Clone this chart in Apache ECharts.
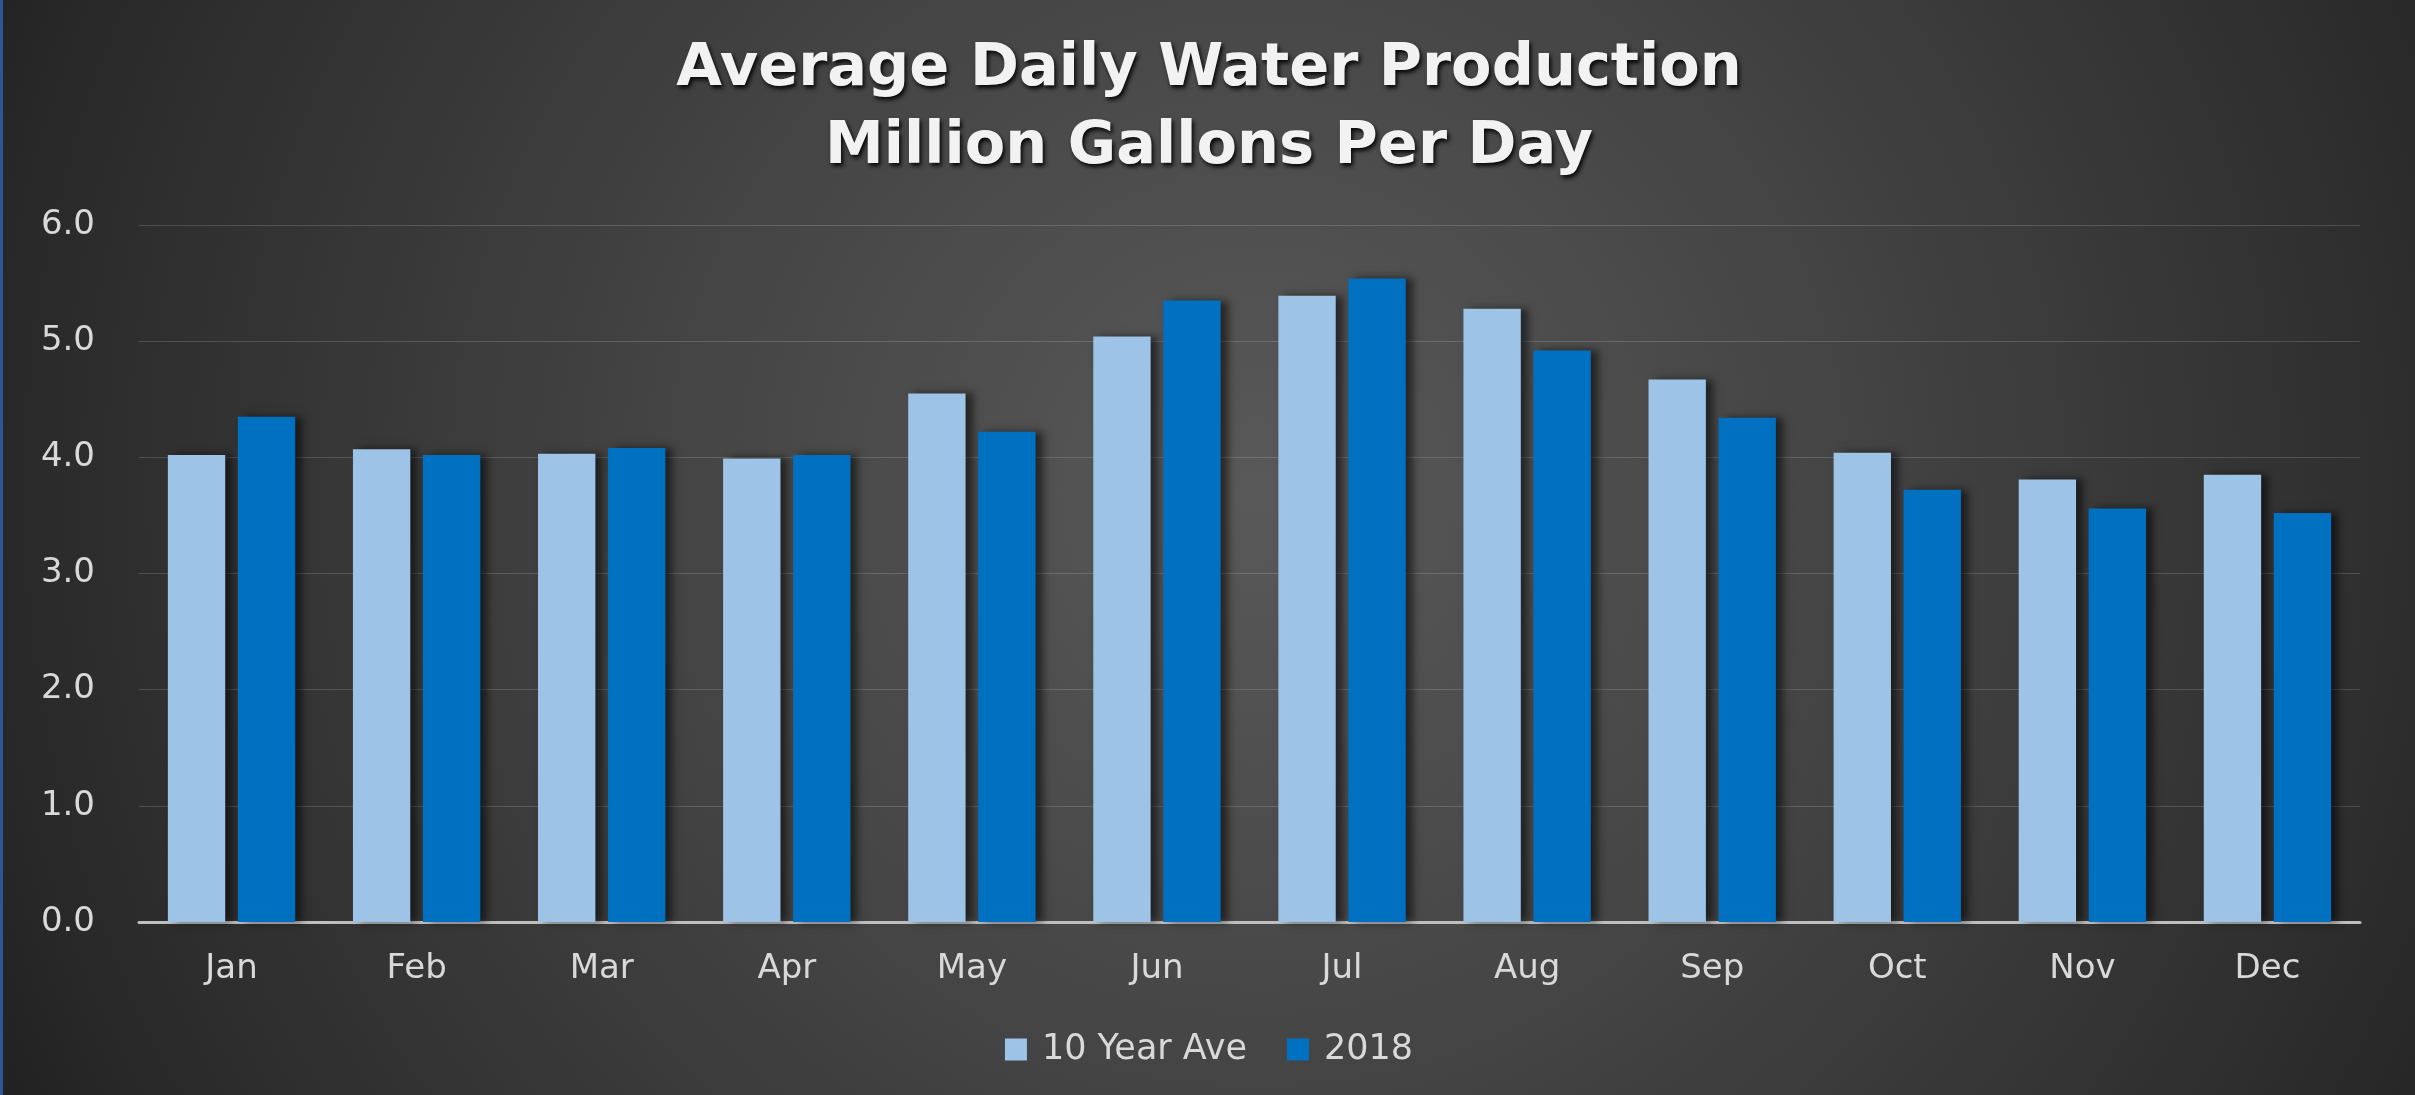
<!DOCTYPE html>
<html style="height: 100%">
<head>
 <meta charset="utf-8">
 <title>Average Daily Water Production</title>
</head>
<body style="height: 100%; margin: 0; background: #2a2a2a">
 <div id="container" style="width: 2415px; height: 1095px; border-left: 3px solid #2e5597; box-sizing: border-box"></div>
 <script type="text/javascript" src="https://cdn.jsdelivr.net/npm/echarts@6/dist/echarts.min.js"></script>
 <script type="text/javascript">
    var months = ['Jan', 'Feb', 'Mar', 'Apr', 'May', 'Jun', 'Jul', 'Aug', 'Sep', 'Oct', 'Nov', 'Dec'];
    var tenYearAve = [4.02, 4.07, 4.03, 3.99, 4.55, 5.04, 5.39, 5.28, 4.67, 4.04, 3.81, 3.85];
    var year2018 = [4.35, 4.02, 4.08, 4.02, 4.22, 5.35, 5.54, 4.92, 4.34, 3.72, 3.56, 3.52];
    var seriesNames = ['10 Year Ave', '2018'];

    var labelColor = '#d9d9d9';
    var labelFont = '"DejaVu Sans", sans-serif';

    var dom = document.getElementById("container");
    var myChart = echarts.init(dom);

    function barStyle(color) {
        return {
            color: color,
            shadowColor: 'rgba(0,0,0,0.55)',
            shadowBlur: 8,
            shadowOffsetX: 7,
            shadowOffsetY: 0
        };
    }

    myChart.setOption({
        animation: false,
        backgroundColor: {
            type: 'radial',
            x: 0.52, y: 0.45, r: 1.3,
            colorStops: [
                {offset: 0, color: '#595959'},
                {offset: 0.4, color: '#454545'},
                {offset: 0.85, color: '#2b2b2b'},
                {offset: 1, color: '#202020'}
            ]
        },
        title: {
            text: 'Average Daily Water Production\nMillion Gallons Per Day',
            left: 'center',
            top: 26,
            textStyle: {
                color: '#f2f2f2',
                fontFamily: labelFont,
                fontWeight: 'bold',
                fontSize: 59,
                lineHeight: 78,
                textShadowColor: 'rgba(0,0,0,0.9)',
                textShadowBlur: 4,
                textShadowOffsetX: 2,
                textShadowOffsetY: 3
            }
        },
        legend: {
            data: seriesNames,
            left: 'center',
            top: 1027,
            icon: 'rect',
            itemWidth: 22,
            itemHeight: 22,
            itemGap: 40,
            textStyle: {
                color: labelColor,
                fontFamily: labelFont,
                fontSize: 35,
                padding: [0, 0, 0, 10]
            }
        },
        grid: {
            left: 136,
            right: 55,
            top: 225,
            bottom: 173
        },
        xAxis: {
            type: 'category',
            data: months,
            axisTick: {show: false},
            axisLine: {lineStyle: {color: '#bfbfbf', width: 3}},
            axisLabel: {
                color: labelColor,
                fontFamily: labelFont,
                fontSize: 34,
                margin: 30
            }
        },
        yAxis: {
            type: 'value',
            min: 0,
            max: 6,
            interval: 1,
            axisLine: {show: false},
            axisTick: {show: false},
            splitLine: {lineStyle: {color: 'rgba(255,255,255,0.16)', width: 1}},
            axisLabel: {
                color: labelColor,
                fontFamily: labelFont,
                fontSize: 34,
                margin: 44,
                formatter: function (v) { return v.toFixed(1); }
            }
        },
        series: [
            {
                name: seriesNames[0],
                type: 'bar',
                data: tenYearAve,
                barWidth: '31%',
                barGap: '22%',
                itemStyle: barStyle('#9dc3e6')
            },
            {
                name: seriesNames[1],
                type: 'bar',
                data: year2018,
                barWidth: '31%',
                barGap: '22%',
                itemStyle: barStyle('#0070c0')
            }
        ]
    });
</script>
</body>
</html>
